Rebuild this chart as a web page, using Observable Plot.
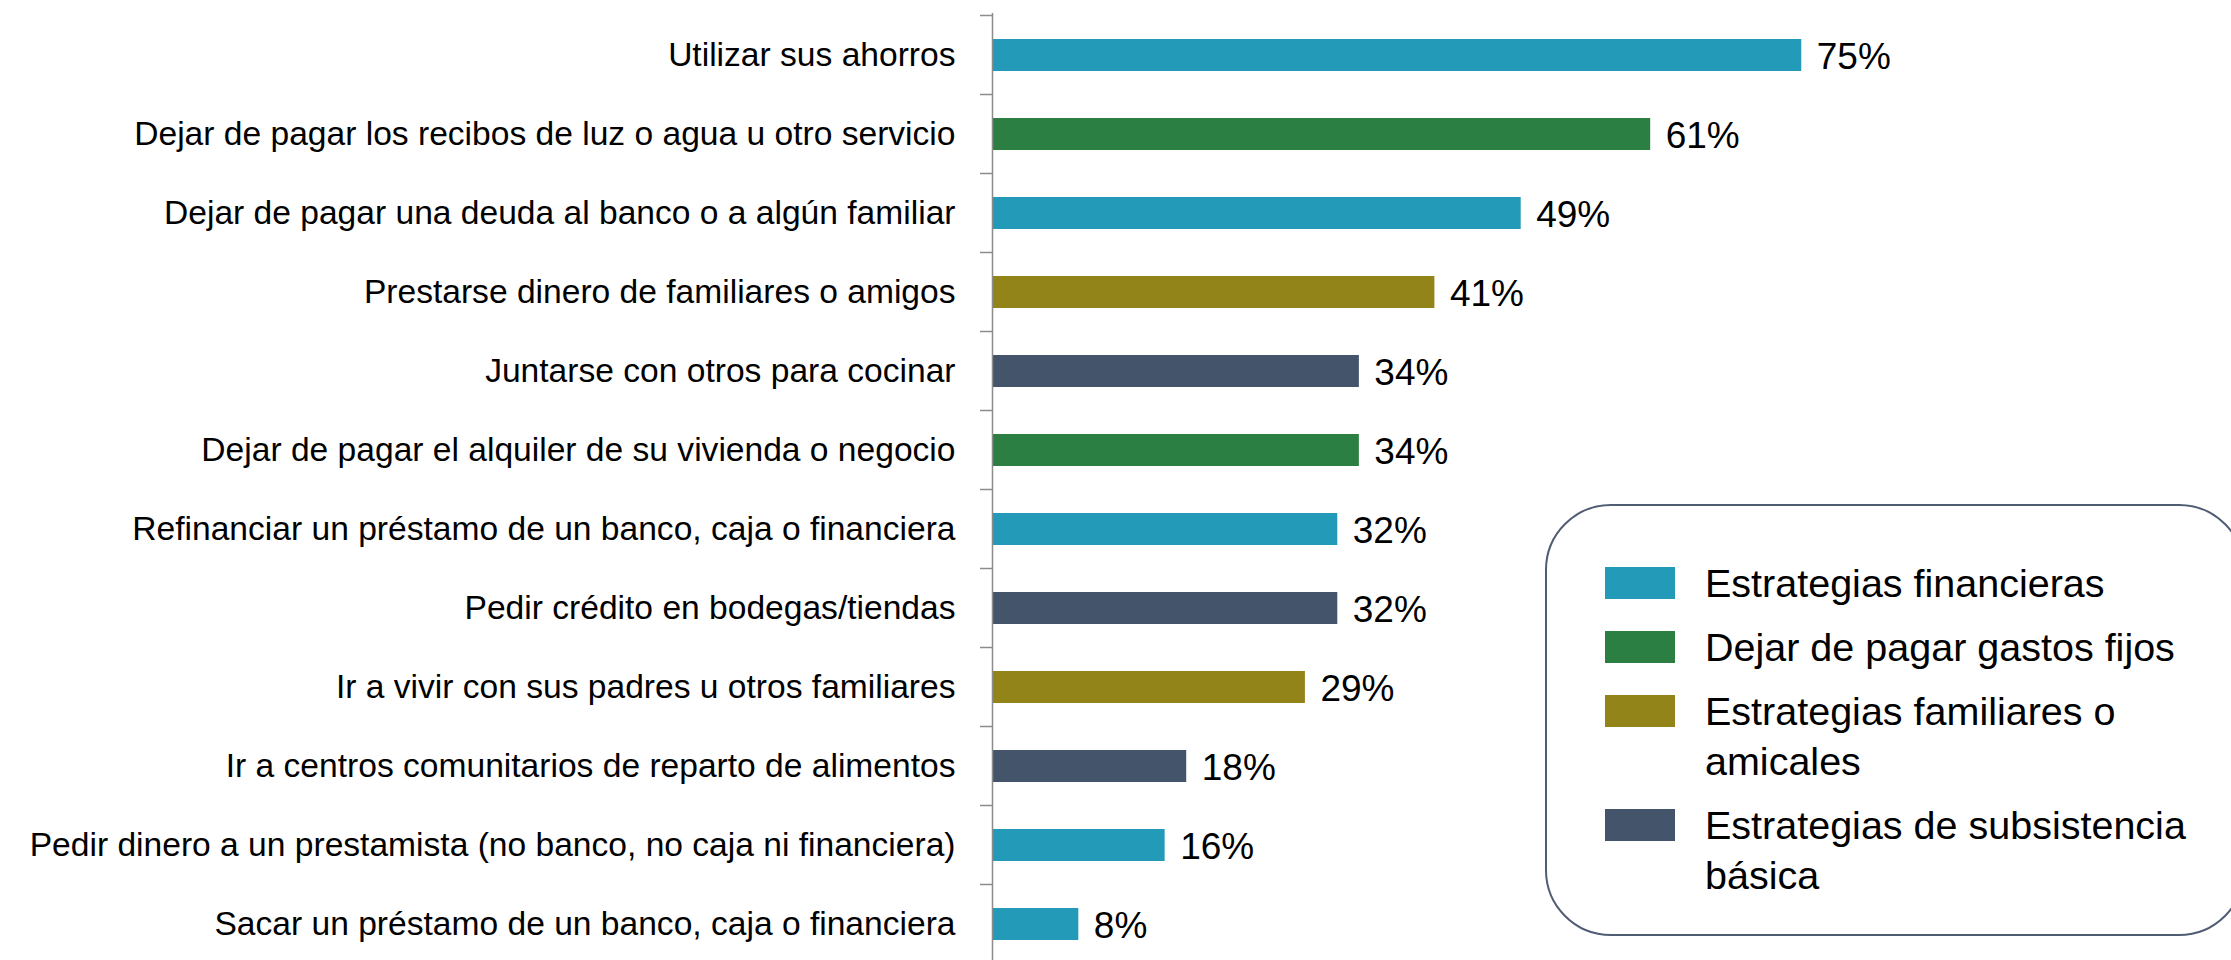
<!DOCTYPE html>
<html>
<head>
<meta charset="utf-8">
<script src="https://cdn.jsdelivr.net/npm/d3@7"></script>
<script src="https://cdn.jsdelivr.net/npm/@observablehq/plot@0.6"></script>
<style>
  html, body { margin: 0; padding: 0; background: #fff; overflow: hidden; }
  #wrap { position: relative; width: 2231px; height: 960px; overflow: hidden; font-family: "Liberation Sans", Arial, sans-serif; }
  #legend { position: absolute; left: 1545px; top: 504px; width: 700px; height: 432px; box-sizing: border-box;
            border: 2px solid #4f5d73; border-radius: 66px; padding-top: 52px; background: #fff; }
  .item { display: flex; align-items: flex-start; margin-bottom: 14px; }
  .sw { flex: none; width: 70px; height: 32px; margin-left: 58px; margin-top: 9px; }
  .lab { margin-left: 30px; width: 495px; font-size: 39.5px; line-height: 50px; color: #000; }
</style>
</head>
<body>
<div id="wrap"></div>
<script>
const labels = [
  "Utilizar sus ahorros",
  "Dejar de pagar los recibos de luz o agua u otro servicio",
  "Dejar de pagar una deuda al banco o a algún familiar",
  "Prestarse dinero de familiares o amigos",
  "Juntarse con otros para cocinar",
  "Dejar de pagar el alquiler de su vivienda o negocio",
  "Refinanciar un préstamo de un banco, caja o financiera",
  "Pedir crédito en bodegas/tiendas",
  "Ir a vivir con sus padres u otros familiares",
  "Ir a centros comunitarios de reparto de alimentos",
  "Pedir dinero a un prestamista (no banco, no caja ni financiera)",
  "Sacar un préstamo de un banco, caja o financiera"
];
const values = [75, 61, 49, 41, 34, 34, 32, 32, 29, 18, 16, 8];
const groupOf = [0, 1, 0, 2, 3, 1, 0, 3, 2, 3, 0, 0];
const groups = [
  "Estrategias financieras",
  "Dejar de pagar gastos fijos",
  "Estrategias familiares o amicales",
  "Estrategias de subsistencia básica"
];
const colors = ["#249AB9", "#2B7F43", "#938419", "#44546A"];

const rows = labels.map((l, i) => ({label: l, value: values[i], group: groups[groupOf[i]]}));

const FONT = '"Liberation Sans", Arial, sans-serif';

function boundaryTicks(index, scales) {
  const y = scales.y, x0 = scales.x(0);
  const bw = typeof y.bandwidth === "function" ? y.bandwidth() : (y.bandwidth || 0);
  const step = y(labels[1]) - y(labels[0]);
  const gap = (step - bw) / 2;
  const ys = labels.map(l => y(l) - gap);
  ys.push(y(labels[labels.length - 1]) + bw + gap);
  const g = d3.create("svg:g").attr("stroke", "#8c8c8c").attr("stroke-width", 1.5);
  g.selectAll("line").data(ys).join("line")
    .attr("x1", x0 - 12).attr("x2", x0).attr("y1", d => d).attr("y2", d => d);
  return g.node();
}

const chart = Plot.plot({
  width: 2231,
  height: 960,
  marginTop: 13,
  marginBottom: 0,
  marginLeft: 992,
  marginRight: 0,
  style: {fontFamily: FONT, background: "white", color: "#000", overflow: "visible"},
  x: {domain: [0, 100], range: [992, 2071], axis: null},
  y: {domain: labels, range: [13, 966], paddingInner: 0.59, paddingOuter: 0.295, axis: null, label: null},
  color: {domain: groups, range: colors},
  marks: [
    Plot.barX(rows, {x: "value", y: "label", fill: "group"}),
    Plot.ruleX([0], {stroke: "#8c8c8c", strokeWidth: 1.5}),
    boundaryTicks,
    Plot.axisY({tickSize: 0, tickPadding: 37, fontSize: 33.6, fill: "#000", label: null}),
    Plot.text(rows, {x: "value", y: "label", text: d => d.value + "%", textAnchor: "start", dx: 15, dy: 2, fontSize: 37, fill: "#000"})
  ]
});

const wrap = document.getElementById("wrap");
wrap.appendChild(chart);

const legend = document.createElement("div");
legend.id = "legend";
groups.forEach((g, i) => {
  const item = document.createElement("div");
  item.className = "item";
  const sw = document.createElement("div");
  sw.className = "sw";
  sw.style.background = colors[i];
  const lab = document.createElement("div");
  lab.className = "lab";
  lab.textContent = g;
  item.appendChild(sw);
  item.appendChild(lab);
  legend.appendChild(item);
});
wrap.appendChild(legend);
</script>
</body>
</html>
